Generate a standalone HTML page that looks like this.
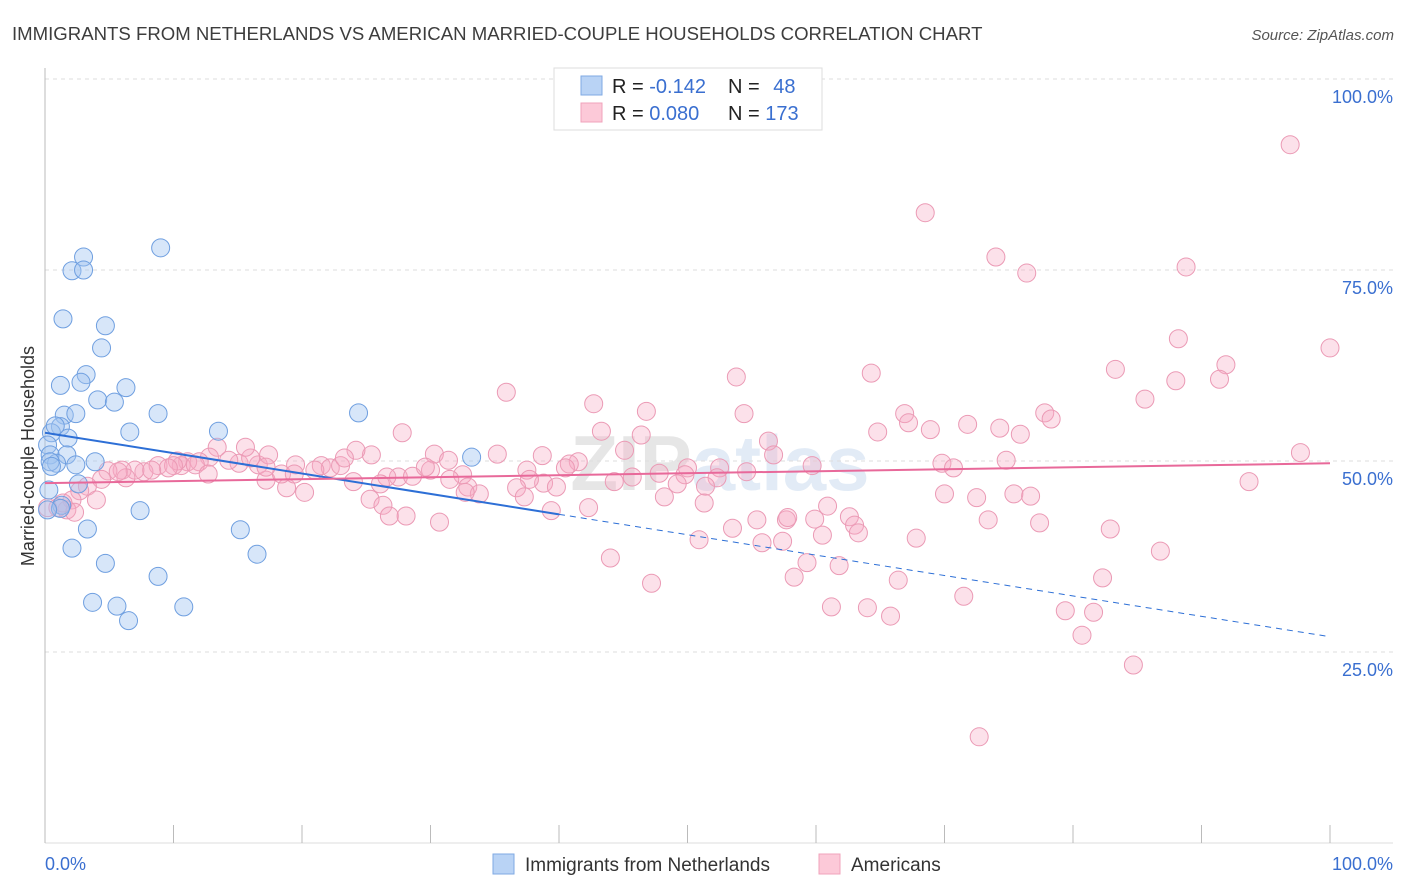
<!DOCTYPE html>
<html><head><meta charset="utf-8"><style>
body{margin:0;background:#fff;font-family:"Liberation Sans",sans-serif;}
svg{display:block}
</style></head><body>
<svg id="chart" width="1406" height="892" xmlns="http://www.w3.org/2000/svg" font-family="Liberation Sans, sans-serif">
<text x="12" y="40" font-size="18.6" fill="#3d3d3d">IMMIGRANTS FROM NETHERLANDS VS AMERICAN MARRIED-COUPLE HOUSEHOLDS CORRELATION CHART</text>
<text x="1394" y="40" font-size="15" fill="#555" text-anchor="end" font-style="italic">Source: ZipAtlas.com</text>
<text x="720" y="490" font-size="78" text-anchor="middle" font-weight="bold"><tspan fill="#e6e6e6">ZIP</tspan><tspan fill="#e2ebf6">atlas</tspan></text>
<g id="grid"></g>
<g id="axes"></g>
<g id="pink"></g>
<g id="blue"></g>
<g id="trends"></g>
<text transform="translate(34,456) rotate(-90)" font-size="18" fill="#333" text-anchor="middle">Married-couple Households</text>
<g>
<rect x="554" y="68" width="268" height="62" fill="#fff" stroke="#ddd"/>
<rect x="581" y="76" width="21" height="19" fill="#b9d3f5" stroke="#7fa9e3"/>
<rect x="581" y="103" width="21" height="19" fill="#fcc9d8" stroke="#f0a3bb"/>
<text x="612" y="93" font-size="20" fill="#222">R = <tspan fill="#3a6fd0">-0.142</tspan></text>
<text x="728" y="93" font-size="20" fill="#222">N = <tspan fill="#3a6fd0" dx="8">48</tspan></text>
<text x="612" y="120" font-size="20" fill="#222">R = <tspan fill="#3a6fd0">0.080</tspan></text>
<text x="728" y="120" font-size="20" fill="#222">N = <tspan fill="#3a6fd0">173</tspan></text>
</g>
<g>
<rect x="493" y="854" width="21" height="20" fill="#b9d3f5" stroke="#7fa9e3"/>
<text x="525" y="871" font-size="19" fill="#333">Immigrants from Netherlands</text>
<rect x="819" y="854" width="21" height="20" fill="#fcc9d8" stroke="#f0a3bb"/>
<text x="851" y="871" font-size="19" fill="#333">Americans</text>
</g>
</svg>
<script>
const blueX=[3.0,2.1,3.0,9.0,1.4,4.7,4.4,1.2,3.2,2.8,6.3,4.1,5.4,1.5,2.4,8.8,6.6,13.5,24.4,1.2,0.5,1.8,0.2,0.4,1.7,3.9,0.9,2.4,0.4,33.2,2.6,1.3,1.2,7.4,15.2,3.3,2.1,4.7,16.5,8.8,3.7,5.6,10.8,6.5,0.3,0.2,0.5,0.8];
const blueY=[76.7,74.9,75.0,77.9,68.6,67.7,64.8,59.9,61.3,60.3,59.6,58.0,57.7,56.0,56.2,56.2,53.8,53.9,56.3,54.5,53.7,53.0,52.1,50.8,50.8,49.9,49.7,49.5,49.9,50.5,47.0,44.2,43.8,43.5,41.0,41.1,38.6,36.6,37.8,34.9,31.5,31.0,30.9,29.1,46.2,43.6,49.3,54.6];
const pinkX=[96.9,68.5,74.0,76.4,88.8,100,88.2,83.3,88.0,91.9,91.4,64.3,53.8,35.9,85.6,42.7,46.8,54.4,66.9,67.2,64.8,68.9,71.8,74.3,75.9,77.8,78.3,43.3,46.4,45.1,56.3,56.7,97.7,27.8,25.4,24.2,69.8,70.7,74.8,59.7,93.7,38.7,35.2,30.3,31.4,41.5,40.8,40.5,37.5,30.0,27.5,26.6,24.0,21.5,22.2,50.0,49.8,52.5,54.6,52.3,51.4,45.7,47.8,49.2,44.3,38.8,39.8,37.7,32.5,32.9,33.8,32.7,36.7,37.3,28.6,29.6,31.5,26.1,25.3,26.3,26.8,28.1,30.7,20.2,18.8,17.2,18.4,16.6,15.1,14.3,16.0,13.4,15.6,12.8,12.0,11.1,10.6,8.8,7.7,7.0,6.0,4.9,6.3,4.4,3.3,2.7,4.0,2.1,1.0,0.2,1.7,2.3,1.4,10.3,11.7,10.0,9.6,17.4,19.5,21.0,23.0,23.3,19.4,17.2,12.7,8.3,5.7,48.2,42.3,39.4,51.3,55.4,53.5,57.7,59.9,57.8,60.9,62.6,63.0,63.3,60.5,50.9,55.8,57.4,59.3,61.8,67.8,70.0,72.5,73.4,75.4,76.7,77.4,82.9,86.8,71.5,66.4,82.3,58.3,61.2,64.0,65.8,79.4,81.6,80.7,84.7,72.7,44.0,47.2];
const pinkY=[91.4,82.5,76.7,74.6,75.4,64.8,66.0,62.0,60.5,62.6,60.7,61.5,61.0,59.0,58.1,57.5,56.5,56.2,56.2,55.0,53.8,54.1,54.8,54.3,53.5,56.3,55.5,53.9,53.4,51.4,52.6,50.8,51.1,53.7,50.8,51.4,49.7,49.1,50.1,49.4,47.3,50.7,50.9,50.9,50.1,49.9,49.6,49.1,48.8,48.8,47.9,47.9,47.3,49.4,49.1,49.1,48.2,49.1,48.6,47.8,46.7,47.9,48.4,47.0,47.3,47.1,46.6,47.6,48.2,46.6,45.7,45.9,46.5,45.3,48.0,49.2,47.6,47.0,45.0,44.2,42.8,42.8,42.0,45.9,46.5,47.5,48.3,49.5,49.7,50.1,50.4,51.8,51.8,50.5,49.9,49.9,49.4,49.4,48.6,48.8,48.8,48.7,47.8,47.6,46.7,46.1,44.9,44.9,43.9,43.9,43.6,43.3,44.5,50.0,49.5,49.4,49.1,50.8,49.5,48.8,49.4,50.4,48.3,49.2,48.3,48.8,48.6,45.3,43.9,43.5,44.5,42.3,41.2,42.3,42.4,42.6,44.1,42.7,41.6,40.6,40.3,39.7,39.3,39.5,36.7,36.3,39.9,45.7,45.2,42.3,45.7,45.4,41.9,41.1,38.2,32.3,34.4,34.7,34.8,30.9,30.8,29.7,30.4,30.2,27.2,23.3,13.9,37.3,34.0];
const yTicks=[25,50,75,100];
const yTickLabels=["25.0%","50.0%","75.0%","100.0%"];
const blueTrend=[53.7,27.0];
const blueSolidEnd=40;
const pinkTrend=[47.1,49.7];

const NS="http://www.w3.org/2000/svg";
const X0=45,X1=1330,Y0=843,Y1=79;
const sx=v=>X0+(X1-X0)*v/100;
const sy=v=>Y0-(Y0-Y1)*v/100;
function mk(tag,attrs,parent){const e=document.createElementNS(NS,tag);for(const k in attrs)e.setAttribute(k,attrs[k]);parent.appendChild(e);return e;}
const grid=document.getElementById('grid'),axes=document.getElementById('axes');
yTicks.forEach((t,i)=>{
  const l=mk('line',{x1:X0,x2:1393,y1:sy(t),y2:sy(t),stroke:'#ddd','stroke-dasharray':'4,4'},grid);
  
  
  const tx=mk('text',{x:1393,y:sy(t)+24,'font-size':18,fill:'#3a6fd0','text-anchor':'end'},axes);
  tx.textContent=yTickLabels[i];
  
  
});
const al=mk('line',{x1:X0,x2:X0,y1:68,y2:Y0,stroke:'#bbb'},axes);


const bl=mk('line',{x1:X0,x2:1393,y1:Y0,y2:Y0,stroke:'#ddd'},axes);


for(let i=0;i<=10;i++){
  const t=mk('line',{x1:sx(i*10),x2:sx(i*10),y1:825,y2:Y0,stroke:'#bbb'},axes);
  
  
}
const xl0=mk('text',{x:45,y:870,'font-size':18,fill:'#3a6fd0'},axes);xl0.textContent='0.0%';


const xl1=mk('text',{x:1393,y:870,'font-size':18,fill:'#3a6fd0','text-anchor':'end'},axes);xl1.textContent='100.0%';


const pg=document.getElementById('pink');
pinkX.forEach((x,i)=>{const c=mk('circle',{cx:sx(x),cy:sy(pinkY[i]),r:9,fill:'rgba(245,170,195,0.35)',stroke:'#eb9ab5','stroke-width':1},pg);

});
const bg=document.getElementById('blue');
blueX.forEach((x,i)=>{const c=mk('circle',{cx:sx(x),cy:sy(blueY[i]),r:9,fill:'rgba(160,195,240,0.42)',stroke:'#6f9fe0','stroke-width':1},bg);

});
const tg=document.getElementById('trends');
const by=x=>blueTrend[0]+(blueTrend[1]-blueTrend[0])*x/100;
const l1=mk('line',{x1:sx(0),y1:sy(by(0)),x2:sx(blueSolidEnd),y2:sy(by(blueSolidEnd)),stroke:'#2d6fd6','stroke-width':2},tg);


const l2=mk('line',{x1:sx(blueSolidEnd),y1:sy(by(blueSolidEnd)),x2:sx(100),y2:sy(by(100)),stroke:'#2d6fd6','stroke-width':1,'stroke-dasharray':'6,5'},tg);


const l3=mk('line',{x1:sx(0),y1:sy(pinkTrend[0]),x2:sx(100),y2:sy(pinkTrend[1]),stroke:'#e8699a','stroke-width':2},tg);


</script>
</body></html>
